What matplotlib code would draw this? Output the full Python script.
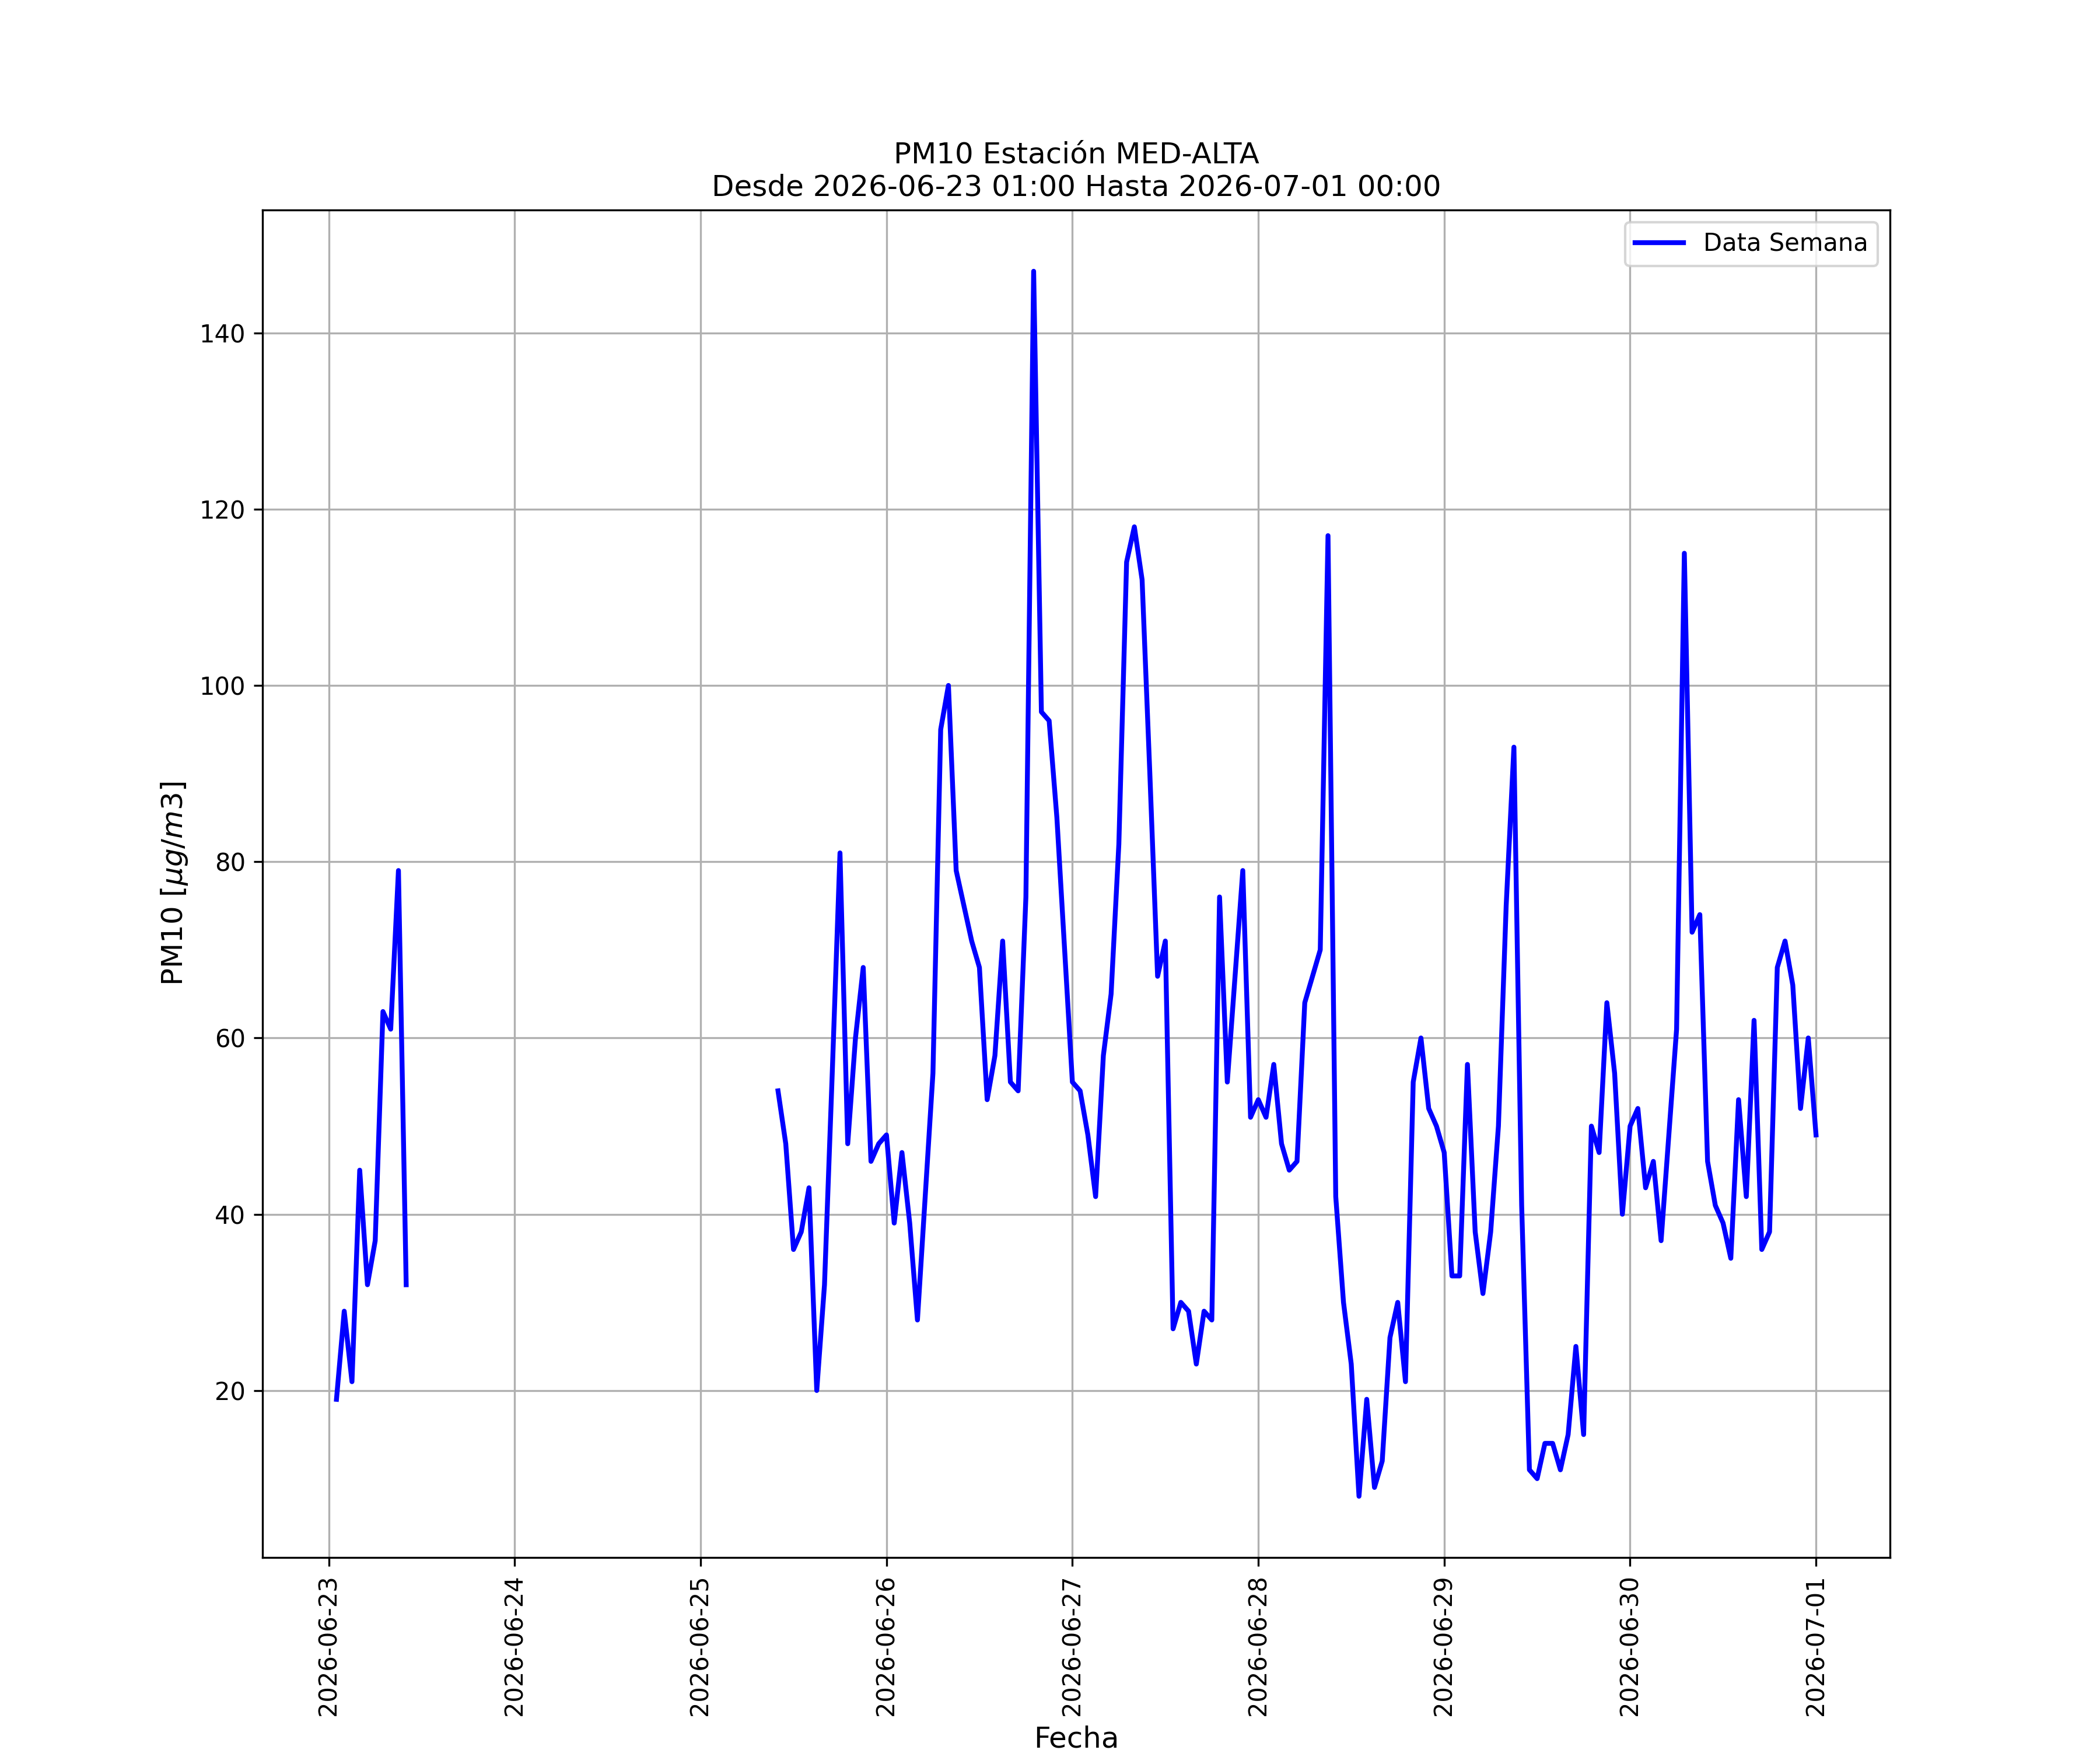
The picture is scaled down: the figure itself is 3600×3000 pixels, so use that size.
import numpy as np
import pandas as pd
import matplotlib
matplotlib.use('Agg')
import matplotlib.pyplot as plt
import matplotlib.dates as mdates

# hourly PM10 readings, station MED-ALTA

start_time = '2026-06-23 01:00'
end_time   = '2026-07-01 00:00'

pm10_0623_morning = [19, 29, 21, 45, 32, 37, 63, 61, 79, 32]      # 01:00 - 10:00
pm10_missing      = [np.nan] * 47                                  # 06-23 11:00 - 06-25 09:00, no data
pm10_0625         = [54, 48, 36, 38, 43, 20, 32, 56, 81, 48, 60, 68, 46, 48]   # 10:00 - 23:00
pm10_0626 = [49, 39, 47, 39, 28, 42, 56, 95, 100, 79, 75, 71,
             68, 53, 58, 71, 55, 54, 76, 147, 97, 96, 85, 70]
pm10_0627 = [55, 54, 49, 42, 58, 65, 82, 114, 118, 112, 90, 67,
             71, 27, 30, 29, 23, 29, 28, 76, 55, 67, 79, 51]
pm10_0628 = [53, 51, 57, 48, 45, 46, 64, 67, 70, 117, 42, 30,
             23, 8, 19, 9, 12, 26, 30, 21, 55, 60, 52, 50]
pm10_0629 = [47, 33, 33, 57, 38, 31, 38, 50, 75, 93, 41, 11,
             10, 14, 14, 11, 15, 25, 15, 50, 47, 64, 56, 40]
pm10_0630 = [50, 52, 43, 46, 37, 49, 61, 115, 72, 74, 46, 41,
             39, 35, 53, 42, 62, 36, 38, 68, 71, 66, 52, 60]
pm10_0701 = [49]

fechas = pd.date_range(start_time, end_time, freq='h')
pm10 = (pm10_0623_morning + pm10_missing + pm10_0625 + pm10_0626 + pm10_0627
        + pm10_0628 + pm10_0629 + pm10_0630 + pm10_0701)

# plot

fig, ax = plt.subplots(figsize=(12, 10))

ax.plot(fechas, pm10, color='blue', linewidth=2, label='Data Semana')

ax.set_title('PM10 Estación MED-ALTA\nDesde ' + start_time + ' Hasta ' + end_time, fontsize=12)
ax.set_xlabel('Fecha', fontsize=12)
ax.set_ylabel(r'PM10 [$\mu g/m3$]', fontsize=12)

ax.xaxis.set_major_locator(mdates.DayLocator())
ax.xaxis.set_major_formatter(mdates.DateFormatter('%Y-%m-%d'))
plt.setp(ax.get_xticklabels(), rotation=90)

ax.grid(True)
ax.legend(loc='upper right')

fig.savefig('out.png', dpi=300)
